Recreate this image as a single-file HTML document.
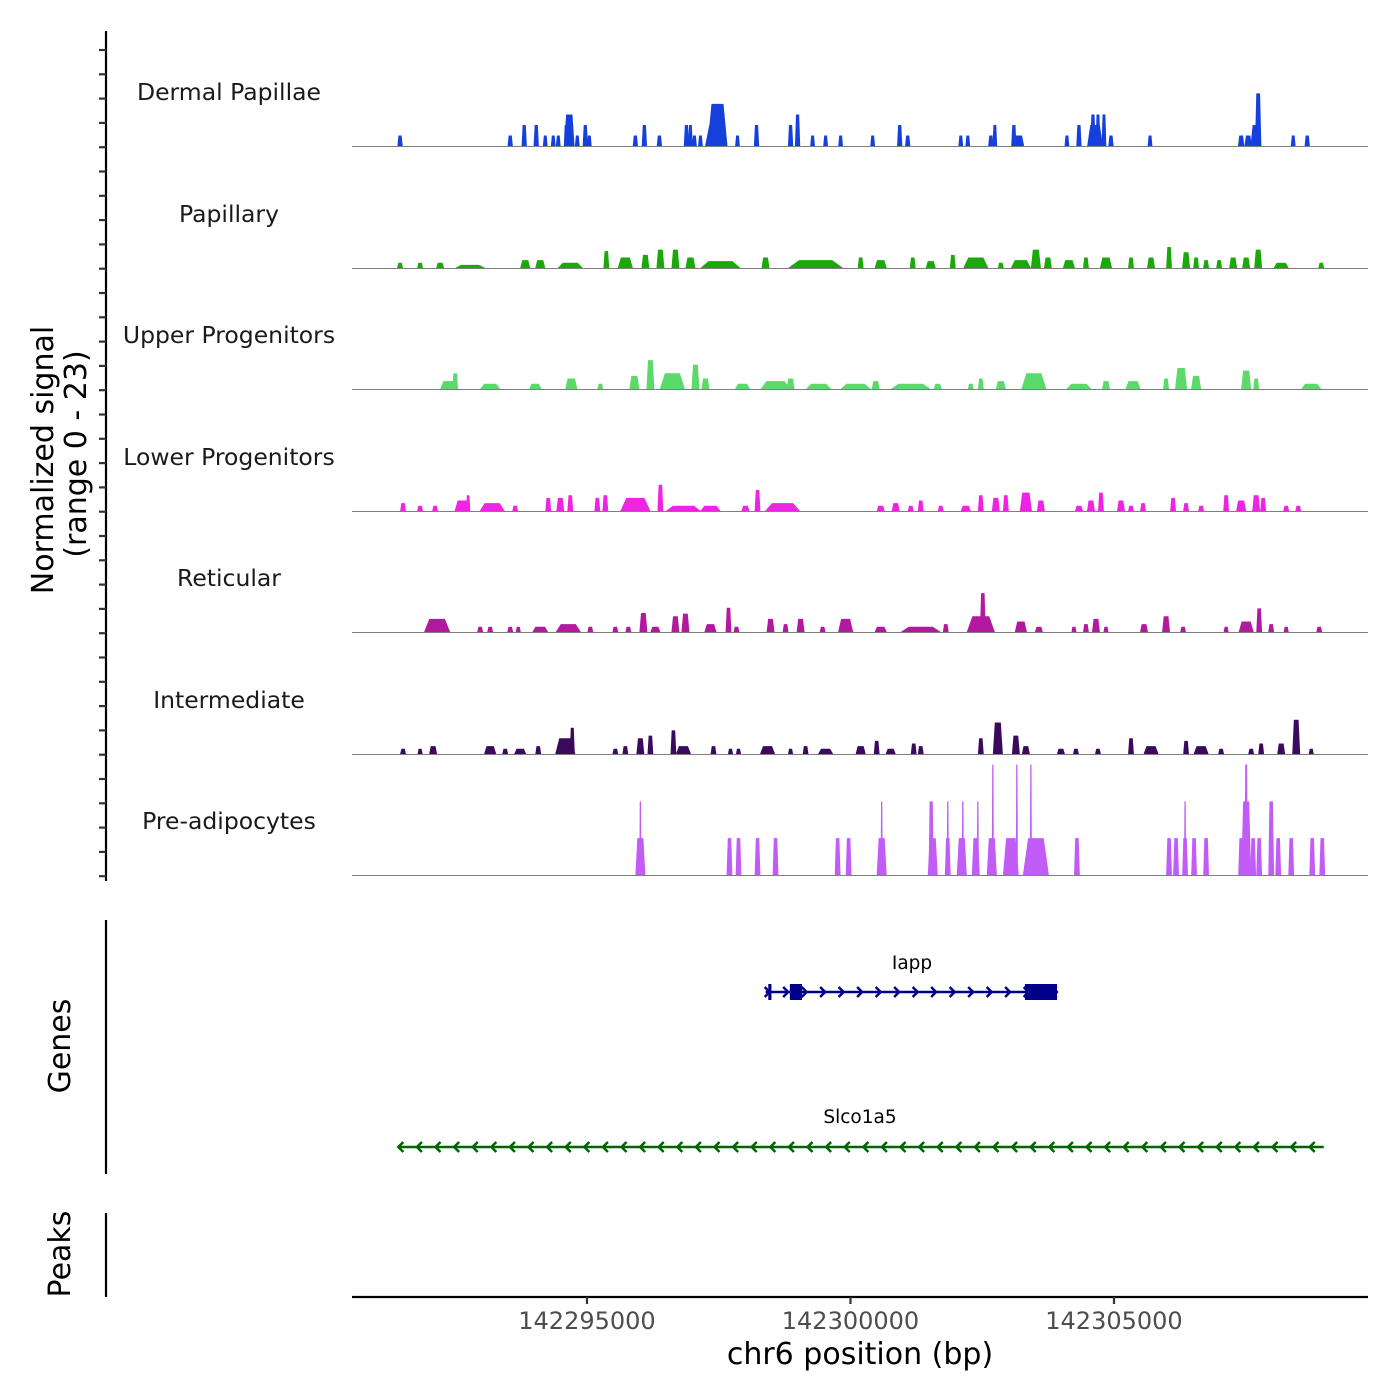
<!DOCTYPE html>
<html><head><meta charset="utf-8"><style>
html,body{margin:0;padding:0;background:#fff;}
svg{display:block;font-family:"DejaVu Sans","Liberation Sans",sans-serif;}
</style></head><body>
<svg id="chart" width="1400" height="1400" viewBox="0 0 1400 1400" xmlns="http://www.w3.org/2000/svg">
<rect width="1400" height="1400" fill="#fff"/>
<g id="tracks"></g>
<g id="labels"></g>
<g id="yaxis"></g>
<text transform="translate(53,460) rotate(-90)" text-anchor="middle" font-size="30" fill="#000">Normalized signal</text>
<text transform="translate(86,454) rotate(-90)" text-anchor="middle" font-size="30" fill="#000">(range 0 - 23)</text>
<line x1="106" y1="920" x2="106" y2="1174" stroke="#000" stroke-width="2.2"/>
<text transform="translate(70,1046) rotate(-90)" text-anchor="middle" font-size="30" fill="#000">Genes</text>
<line x1="106" y1="1213" x2="106" y2="1297" stroke="#000" stroke-width="2.2"/>
<text transform="translate(70,1254) rotate(-90)" text-anchor="middle" font-size="30" fill="#000">Peaks</text>
<g id="genes"></g>
<g id="xaxis"></g>
<text x="860" y="1364" text-anchor="middle" font-size="30" fill="#000">chr6 position (bp)</text>
</svg>
<script>
// ---- data ----
const regionStart = 142290541;
const regionEnd = 142309820;
const trackNames = ["Dermal Papillae","Papillary","Upper Progenitors","Lower Progenitors","Reticular","Intermediate","Pre-adipocytes"];
const trackColors = ["#1540dc","#1aa80a","#5bd96a","#f022e4","#b3199f","#3b0a5c","#c25cf7"];
const xTicks = [142295000,142300000,142305000];
const xTickLabels = ["142295000","142300000","142305000"];
// peaks: [offset from regionStart (bp), width (bp), signal]
const dermal = [[912,100,2],[3002,100,2],[3268,100,4],[3496,100,4],[3667,90,2],[3819,90,2],[3914,90,2],[4123,200,6],[4060,80,4],[4275,90,2],[4427,100,4],[4503,90,2],[5377,100,2],[5548,100,4],[5833,100,2],[6346,100,4],[6422,90,4],[6498,90,2],[6612,90,2],[6935,380,8],[6900,400,4],[7315,90,2],[7676,100,4],[8322,100,4],[8455,100,6],[8740,90,2],[8987,90,2],[9272,90,2],[9880,90,2],[10393,100,4],[10545,100,2],[11552,90,2],[11685,90,2],[12122,100,2],[12198,90,4],[12559,100,4],[12654,200,2],[13566,90,2],[13794,100,4],[14060,100,6],[14155,90,6],[14269,90,6],[14100,300,4],[14402,100,2],[15143,90,2],[16872,120,2],[17005,140,2],[17195,120,10],[17150,200,4],[17860,90,2],[18126,100,2]];
const papillary = [[912,110,1],[1292,110,1],[1672,150,1],[2242,570,0.6],[3287,190,1.5],[3572,190,1.5],[4142,475,1],[4826,110,3.2],[5187,285,2],[5567,150,2.5],[5852,150,3.5],[6137,150,3.5],[6422,190,2],[6992,760,1.3],[7847,150,2],[8797,1045,1.5],[9652,110,2],[10032,230,1.5],[10640,110,2],[10982,190,1.3],[11400,110,2.5],[11837,475,2],[12312,110,1],[12692,380,1.5],[12977,190,3.5],[13205,150,2],[13604,230,1.5],[13927,110,2],[14307,230,2],[14782,110,2],[15162,150,2],[15504,110,4],[15827,150,3],[16017,110,2],[16207,110,1.5],[16454,110,1.5],[16720,150,2],[16967,150,2],[17195,150,3.5],[17632,285,1],[18392,110,1]];
const upper = [[1824,300,1.5],[1957,110,3],[2622,380,1],[3477,230,1],[4161,230,2],[4712,110,1],[5358,190,2.5],[5662,150,5.5],[6080,475,3],[6517,150,4.6],[6707,150,2],[7410,285,1],[8037,570,1.5],[8322,150,2],[8854,475,1],[9557,570,1],[9937,150,1.5],[10602,760,1],[11115,150,1],[11742,110,1],[11932,110,2],[12312,190,1.5],[12939,475,3],[13794,475,1],[14307,150,1.5],[14820,285,1.5],[15447,110,2],[15732,230,4],[16017,190,2.5],[16967,190,3.5],[17157,110,2],[18202,380,1]];
const lower = [[969,110,1.5],[1292,110,1],[1577,110,1],[2090,285,2],[2204,80,3],[2660,475,1.5],[3097,110,1],[3724,110,2.5],[3952,150,2.5],[4142,110,3],[4655,110,2.5],[4807,110,3],[5377,570,2.5],[5852,110,5],[6289,665,1],[6802,380,1],[7467,150,1],[7695,110,4],[8170,665,1.5],[10032,150,1],[10317,150,1.5],[10602,110,1],[10792,110,2],[11172,110,1],[11647,190,1],[11932,110,3],[12217,150,2.5],[12407,110,3],[12787,230,3.5],[13072,150,2],[13794,150,1],[14022,150,2],[14212,110,3.5],[14592,150,2],[14782,110,1],[15010,110,1.5],[15580,110,2.5],[15827,110,1.5],[16112,110,1],[16587,110,3],[16872,190,2],[17157,150,3],[17290,110,2.5],[17727,110,1],[17955,110,1]];
const reticular = [[1615,494,2.5],[2432,110,1],[2622,110,1],[3002,110,1],[3154,95,1],[3572,300,1],[4104,475,1.5],[4522,110,1],[4997,110,1],[5244,110,1],[5529,150,3.6],[5757,190,1],[6137,150,3],[6327,150,3.5],[6802,230,1.5],[7144,110,4.6],[7296,110,1],[7942,150,2.5],[8227,110,1.5],[8512,150,2.5],[8930,110,1],[9367,285,2.5],[10032,230,1],[10792,760,1],[11267,110,1.5],[11932,532,3],[11970,110,7.4],[12692,230,2],[13034,150,1],[13699,95,1],[13927,110,1.5],[14117,150,2.5],[14307,95,1],[15029,150,1.5],[15447,150,3],[15770,110,1],[16587,95,1],[16967,285,2],[17214,110,4.5],[17442,110,1.5],[17727,95,1],[18354,110,1]];
const intermediate = [[969,110,1],[1292,95,1],[1539,150,1.5],[2622,230,1.5],[2907,110,1],[3192,230,1],[3534,110,1.5],[4047,380,3],[4180,95,5],[4997,110,1],[5187,110,1.5],[5472,150,3],[5662,110,3.5],[6099,110,4.5],[6289,285,1.5],[6859,110,1.5],[7182,95,1],[7334,95,1],[7885,285,1.5],[8322,95,1],[8607,110,1.5],[8987,285,1],[9652,190,1.5],[9956,110,2.5],[10222,190,1],[10659,110,2],[10792,110,1.5],[11932,110,3],[12255,190,6],[12597,150,3.5],[12787,150,1.5],[13452,150,1],[13737,110,1],[14155,110,1],[14782,110,3],[15162,285,1.5],[15827,110,2.5],[16112,285,1.5],[16492,110,1],[17062,110,1],[17252,110,2],[17632,150,2],[17917,150,6.5],[18202,95,1]];
const preadipo = [[5472,190,7],[5472,40,14],[7163,110,7],[7334,110,7],[7695,110,7],[8037,110,7],[9215,110,7],[9424,110,7],[10051,190,7],[10051,40,14],[11020,190,7],[10990,100,14],[11305,110,7],[11305,40,14],[11571,190,7],[11590,40,14],[11837,150,7],[11875,40,14],[12141,190,7],[12160,40,21],[12502,300,7],[12616,40,21],[12882,40,21],[12977,494,7],[13756,110,7],[15504,110,7],[15637,110,7],[15808,110,7],[15808,40,14],[15979,110,7],[16207,110,7],[16872,110,7],[16967,190,14],[16967,60,21],[17100,110,7],[17214,110,7],[17442,110,14],[17575,110,7],[17822,110,7],[18221,110,7],[18411,110,7]];
const trackData = [dermal,papillary,upper,lower,reticular,intermediate,preadipo];
const iappExons = [[142298440,142298500],[142298850,142299080],[142303310,142303920]];
const iappStart = 142298390, iappEnd = 142303940;
const slcoStart = 142291420, slcoEnd = 142308980;

// ---- scales ----
const NS = "http://www.w3.org/2000/svg";
const X0 = 352, X1 = 1368;
function xScale(bp){ return X0 + (bp - regionStart) / (regionEnd - regionStart) * (X1 - X0); }
const baselines = [146,268,389,511,632,754,875];
const unitPx = 5.26;
function yScale(v, t){ return baselines[t] - v * unitPx; }
function mk(tag, attrs, parent){ const e=document.createElementNS(NS,tag); for(const k in attrs) e.setAttribute(k,attrs[k]); parent.appendChild(e); return e; }

const gT = document.getElementById('tracks');
const gL = document.getElementById('labels');
trackData.forEach((peaks, t) => {
  const g = mk('g', {}, gT);
  
  
  peaks.forEach(p => {
    const s = regionStart + p[0] - p[1]/2, e = regionStart + p[0] + p[1]/2;
    const xs = xScale(s), xe = xScale(e), w = xe - xs;
    const y0 = baselines[t], yh = yScale(p[2], t);
    const pts = [[xs,y0],[xs+w*0.2,yh],[xe-w*0.2,yh],[xe,y0]].map(q=>q[0].toFixed(2)+','+q[1].toFixed(2)).join(' ');
    const el = mk('polygon', {points: pts, fill: trackColors[t]}, g);
    
    
  });
  const bl = mk('line', {x1:X0, x2:X1, y1:baselines[t]+0.5, y2:baselines[t]+0.5, stroke:'#7f7f7f', 'stroke-width':1}, g);
  
  
  const lb = mk('text', {x:229, y:baselines[t]-46, 'text-anchor':'middle', 'font-size':'23.5', fill:'#1a1a1a'}, gL);
  lb.textContent = trackNames[t];
  
  
});

// y axis with ticks
const gY = document.getElementById('yaxis');
const ya = mk('line', {x1:106, x2:106, y1:31, y2:881, stroke:'#000', 'stroke-width':2.2}, gY);


for (let y = 50; y <= 880; y += 24.3) {
  const tk = mk('line', {x1:99, x2:106, y1:y, y2:y, stroke:'#333', 'stroke-width':2.2}, gY);
  
  
}

// genes
const gG = document.getElementById('genes');
function arrowsRow(x1, x2, y, color, dir, step){
  for (let x = x1 + 8; x < x2 - 4; x += step) {
    const a = mk('polyline', {points: dir>0 ? `${x-3},${y-5} ${x+2},${y} ${x-3},${y+5}` : `${x+3},${y-5} ${x-2},${y} ${x+3},${y+5}`, fill:'none', stroke:color, 'stroke-width':2.5}, gG);
    
    
  }
}
const iy = 992, ic = '#00008b';
const il = mk('line', {x1:xScale(iappStart), x2:xScale(iappEnd), y1:iy, y2:iy, stroke:ic, 'stroke-width':2.5}, gG);


arrowsRow(xScale(iappStart)-6, xScale(iappEnd), iy, ic, 1, 18.5);
iappExons.forEach(ex => {
  const r = mk('rect', {x:xScale(ex[0]), y:iy-8, width:Math.max(3,xScale(ex[1])-xScale(ex[0])), height:16, fill:ic}, gG);
  
  
});
const it = mk('text', {x:912, y:969, 'text-anchor':'middle', 'font-size':'18.5', fill:'#000'}, gG);
it.textContent = 'Iapp';


const sy = 1147, sc = '#006400';
const sl = mk('line', {x1:xScale(slcoStart), x2:xScale(slcoEnd), y1:sy, y2:sy, stroke:sc, 'stroke-width':2.5}, gG);


arrowsRow(xScale(slcoStart)-6, xScale(slcoEnd), sy, sc, -1, 18.6);
const st = mk('text', {x:860, y:1123, 'text-anchor':'middle', 'font-size':'18.5', fill:'#000'}, gG);
st.textContent = 'Slco1a5';



// x axis
const gX = document.getElementById('xaxis');
const xa = mk('line', {x1:X0, x2:X1, y1:1297, y2:1297, stroke:'#000', 'stroke-width':2.2}, gX);


xTicks.forEach((v, i) => {
  const x = xScale(v);
  const tk = mk('line', {x1:x, x2:x, y1:1297, y2:1304, stroke:'#333', 'stroke-width':2.2}, gX);
  
  
  const tl = mk('text', {x:x, y:1329, 'text-anchor':'middle', 'font-size':'24', fill:'#4d4d4d'}, gX);
  tl.textContent = xTickLabels[i];
  
  
});
</script>
</body></html>
